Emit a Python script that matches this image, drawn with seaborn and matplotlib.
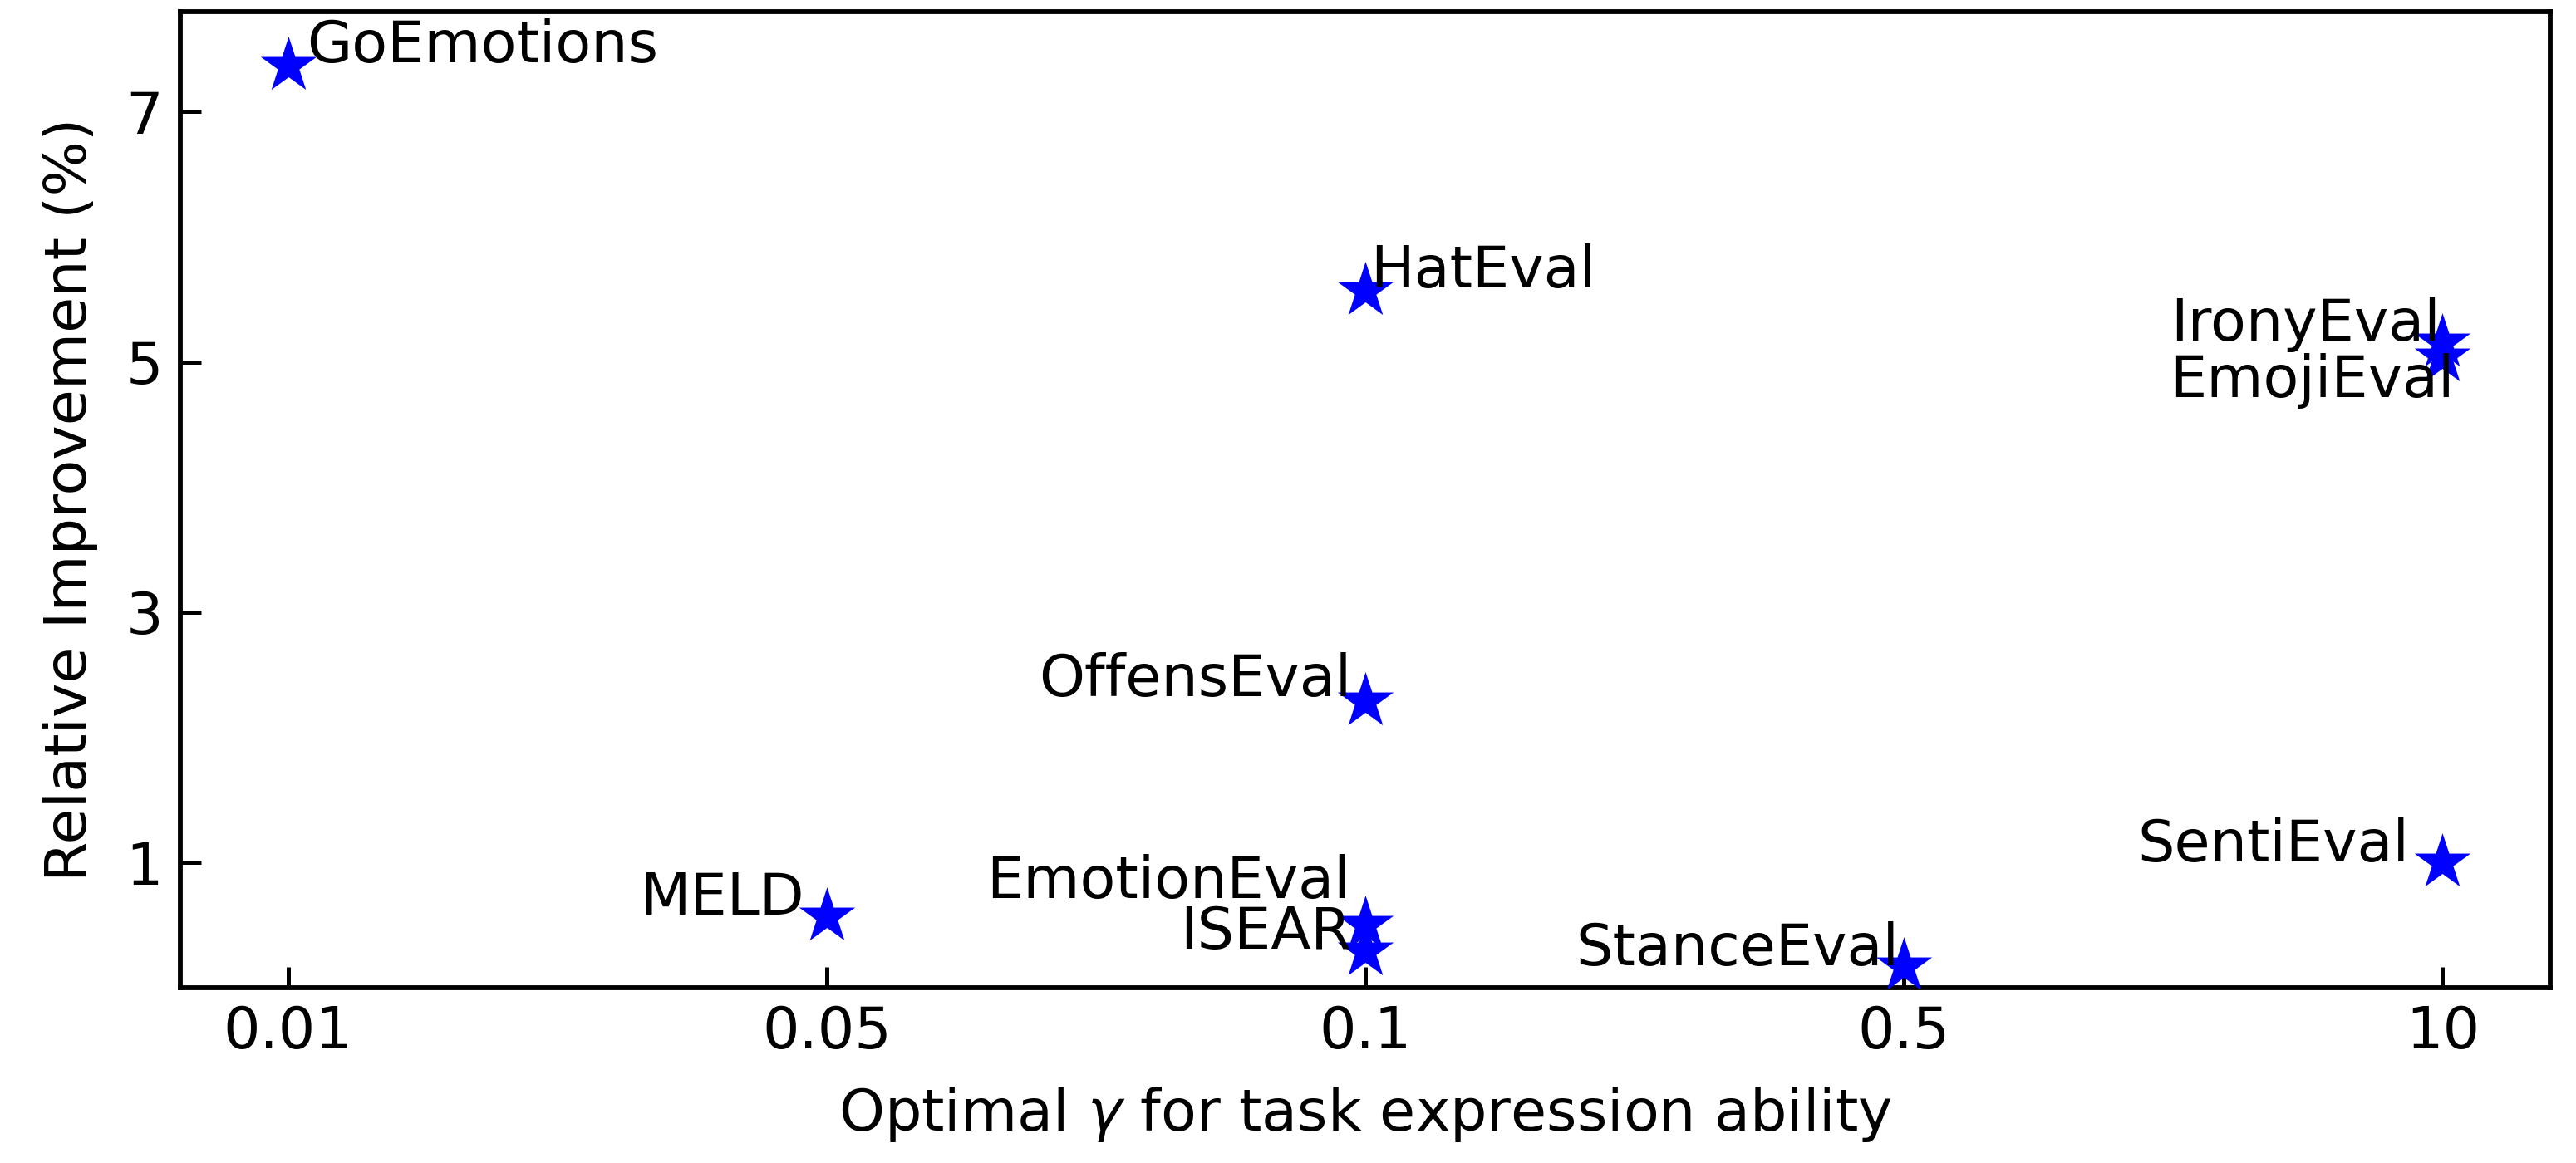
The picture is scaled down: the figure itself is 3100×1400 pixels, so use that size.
import seaborn as sns
from matplotlib import pyplot as plt
import pandas as pd

# data
tasks = ['GoEmotions', 'MELD', 'HatEval', 'OffensEval', 'EmotionEval', 'ISEAR',
         'StanceEval', 'IronyEval', 'EmojiEval', 'SentiEval']
gammas = ['0.01', '0.05', '0.1', '0.1', '0.1', '0.1', '0.5', '10', '10', '10']
improvement = [7.37, 0.57, 5.57, 2.29, 0.50, 0.29, 0.17, 5.16, 5.04, 1.00]
gamma_order = ['0.01', '0.05', '0.1', '0.5', '10']

df = pd.DataFrame({'task': tasks, 'gamma': gammas, 'improvement': improvement})

# label placement: (dx, dy) in points, horizontal alignment
label_pos = {
    'GoEmotions': (5.5, 5.5, 'left'),
    'HatEval': (1.5, 5.5, 'left'),
    'IronyEval': (-0.5, 5.0, 'right'),
    'EmojiEval': (3.5, -7.0, 'right'),
    'OffensEval': (-4.0, 6.0, 'right'),
    'SentiEval': (-9.5, 5.0, 'right'),
    'MELD': (-6.5, 5.0, 'right'),
    'EmotionEval': (-4.5, 12.5, 'right'),
    'ISEAR': (-4.0, 5.5, 'right'),
    'StanceEval': (-1.5, 5.0, 'right'),
}

sns.set_style('ticks', {'axes.edgecolor': 'black', 'text.color': 'black',
                        'axes.labelcolor': 'black', 'xtick.color': 'black',
                        'ytick.color': 'black'})
plt.rcParams['font.family'] = ['DejaVu Sans']
fs = 16.8

fig, ax = plt.subplots(figsize=(3100 / 300, 1400 / 300), dpi=300)
sns.stripplot(data=df, x='gamma', y='improvement', order=gamma_order, jitter=False,
              marker='*', s=17, color='blue', ax=ax, zorder=3)

for t, g, v in zip(tasks, gammas, improvement):
    dx, dy, ha = label_pos[t]
    ax.annotate(t, (gamma_order.index(g), v), xytext=(dx, dy), textcoords='offset points',
                ha=ha, va='center', fontsize=fs)

ax.set_xlim(-0.2, 4.2)
ax.set_ylim(0, 7.8)
ax.set_yticks([1, 3, 5, 7])
ax.set_xlabel(r'Optimal $\gamma$ for task expression ability', fontsize=fs, labelpad=7)
ax.set_ylabel('Relative Improvement (%)', fontsize=fs, labelpad=8)
ax.tick_params(direction='in', labelsize=fs, length=6, width=1.2, pad=5)
for sp in ax.spines.values():
    sp.set_visible(True)
    sp.set_linewidth(1.4)

fig.subplots_adjust(left=0.070, right=0.990, top=0.990, bottom=0.151)
fig.savefig('out.png', dpi=300)
